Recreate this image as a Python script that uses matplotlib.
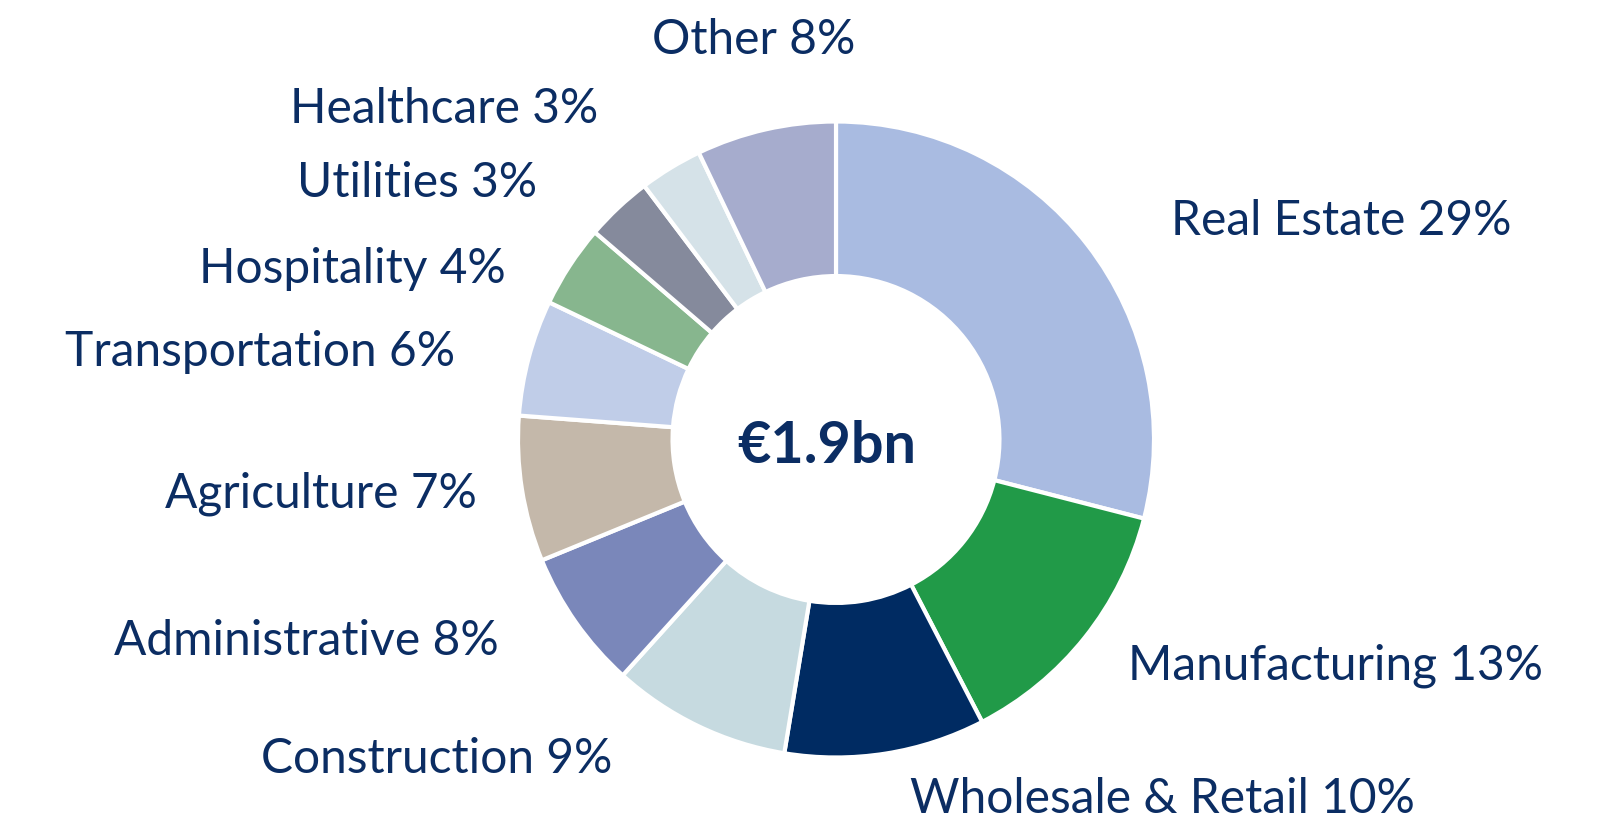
import matplotlib
matplotlib.use("Agg")
import matplotlib.pyplot as plt

# ---- data ----
categories = ["Real Estate", "Manufacturing", "Wholesale & Retail", "Construction",
              "Administrative", "Agriculture", "Transportation", "Hospitality",
              "Utilities", "Healthcare", "Other"]
label_pcts = [29, 13, 10, 9, 8, 7, 6, 4, 3, 3, 8]
# slice shares as drawn in the picture
values = [29.0, 13.4, 10.2, 9.1, 7.1, 7.4, 5.9, 4.2, 3.4, 3.2, 7.1]
colors = ["#A9BBE1", "#219A48", "#002B62", "#C6DAE0", "#7A87BA", "#C4B8AA",
          "#C0CDE8", "#87B68E", "#858A9C", "#D5E2E8", "#A6ACCD"]
center_text = "€1.9bn"

# label placement in pixels (x, baseline y from top, ha)
label_pos = [(1171, 235, "left"), (1128, 680, "left"), (910, 813, "left"),
             (612, 773, "right"), (499, 655, "right"), (477, 508, "right"),
             (455, 366, "right"), (506, 283, "right"), (537, 197, "right"),
             (598, 123, "right"), (754, 54, "center")]

W, H = 1604, 828
TXT = "#0B2D63"
FONT = "Lato"

fig = plt.figure(figsize=(W / 100, H / 100), dpi=100)
cx, cy, R = 836, 440.5, 318
ax = fig.add_axes([(cx - R) / W, (H - cy - R) / H, 2 * R / W, 2 * R / H])
ax.pie(values, colors=colors, startangle=90, counterclock=False,
       radius=1.0, wedgeprops=dict(width=0.486, edgecolor="white", linewidth=3))
ax.set_xlim(-1, 1)
ax.set_ylim(-1, 1)
ax.set_aspect("equal")
ax.axis("off")

ax.text(-0.03, -0.02, center_text, ha="center", va="center", fontsize=41.5,
        fontweight="bold", color=TXT, family=FONT)

for cat, p, (x, y, ha) in zip(categories, label_pcts, label_pos):
    fig.text(x / W, 1 - y / H, f"{cat} {p}%", ha=ha, va="baseline",
             fontsize=34.5, color=TXT, family=FONT)

fig.savefig("out.png", dpi=100, facecolor="white")
